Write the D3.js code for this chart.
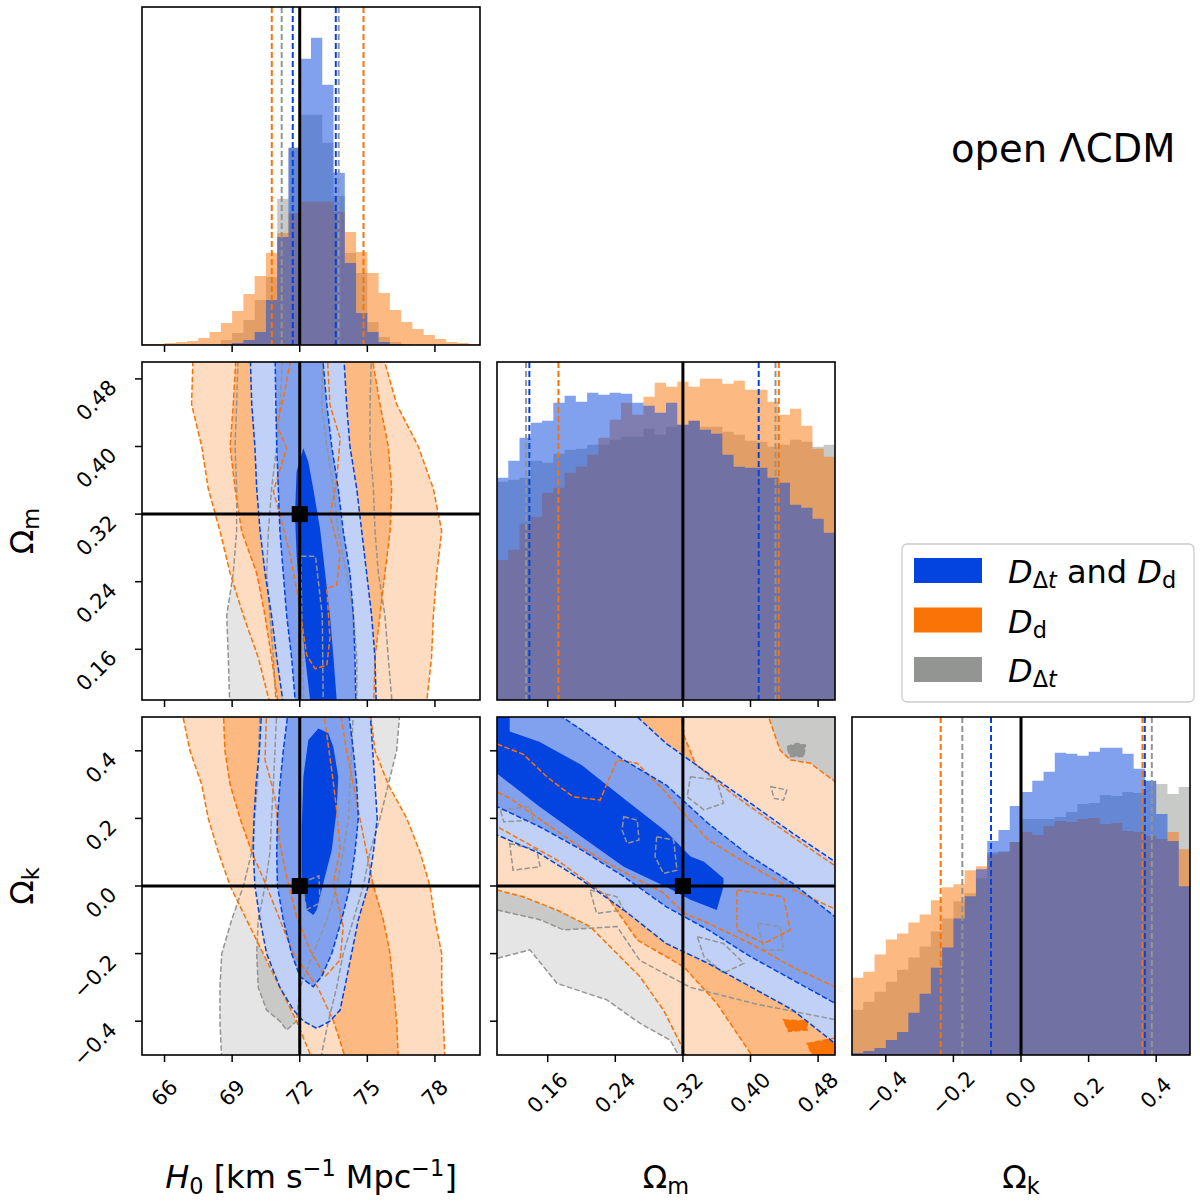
<!DOCTYPE html>
<html lang="en">
<head>
<meta charset="utf-8">
<title>open ΛCDM corner plot</title>
<script src="https://cdn.jsdelivr.net/npm/d3@7"></script>
<style>
  body { margin: 0; background: white; }
  svg { display: block; font-family: "DejaVu Sans", sans-serif; }
</style>
</head>
<body>
<script>
// ---------- data ----------
const H0_RANGE = [65, 80], OM_RANGE = [0.1, 0.5], OK_RANGE = [-0.5, 0.5]
const H0_TICKS = [66, 69, 72, 75, 78]
const OM_TICKS = [0.16, 0.24, 0.32, 0.40, 0.48]
const OK_TICKS = [-0.4, -0.2, 0.0, 0.2, 0.4]
const TRUTH_H0 = 72, TRUTH_OM = 0.32, TRUTH_OK = 0.0
const N_BINS = 30

// 1D histograms (arbitrary counts, 30 bins over each axis range)
const H0_HIST_BOTH = [0,0,0,0,0,0,0,0,2,5,13,45,108,197,286,307,260,172,82,32,13,3,1,0,0,0,0,0,0,0]
const H0_HIST_DD   = [1,1,2,3,4,7,13,22,34,51,69,92,112,132,143,143,143,133,113,93,72,52,35,23,16,10,6,3,2,1]
const H0_HIST_DDT  = [0,0,0,0,0,0,1,5,12,25,45,68,146,197,230,230,202,149,92,72,23,8,3,1,0,0,0,0,0,0]

const OM_HIST_BOTH = [222,239,262,277,279,297,304,298,307,305,307,306,297,294,287,297,275,279,270,266,245,233,232,232,222,217,195,192,181,167]
const OM_HIST_DD   = [140,150,176,183,207,212,227,233,245,262,280,297,285,303,317,313,318,313,321,321,316,319,310,310,298,285,291,274,251,243]
const OM_HIST_DDT  = [218,220,222,239,237,246,250,251,255,255,260,263,263,271,265,273,275,279,273,273,268,265,259,258,253,255,260,258,253,255]

const OK_HIST_BOTH = [2,4,7,15,23,42,61,87,107,136,158,185,213,224,248,262,273,282,301,300,298,302,306,306,300,285,273,240,213,168]
const OK_HIST_DD   = [77,83,100,115,121,132,140,154,167,170,184,188,200,202,212,222,219,228,233,232,235,236,230,231,223,222,218,215,222,205]
const OK_HIST_DDT  = [45,53,63,73,85,97,108,123,136,153,161,176,202,203,212,235,235,235,237,242,250,251,259,258,262,261,273,270,260,267]

// 16th / 84th percentiles
const H0_Q_BOTH = [71.69, 73.60], H0_Q_DD = [70.76, 74.83], H0_Q_DDT = [71.20, 73.73]
const OM_Q_BOTH = [0.1383, 0.4097], OM_Q_DD = [0.1727, 0.4335], OM_Q_DDT = [0.1344, 0.4296]
const OK_Q_BOTH = [-0.0888, 0.3663], OK_Q_DD = [-0.2376, 0.3595], OK_Q_DDT = [-0.1736, 0.3870]

// 2D contours, [x, y] in data units; level 1 = outer, 3 = inner
// Omega_m vs H0
const H0OM_DDT_1 = [[[69.28,0.52],[69.20,0.45],[69.13,0.40],[69.20,0.35],[69.20,0.30],[69.05,0.25],[68.76,0.20],[68.83,0.15],[68.91,0.08],
  [76.15,0.08],[75.93,0.15],[75.78,0.20],[75.49,0.25],[75.34,0.30],[75.27,0.35],[75.12,0.40],[75.12,0.45],[75.19,0.52]]]
const H0OM_DDT_2 = [[[71.27,0.52],[71.12,0.45],[70.98,0.40],[70.75,0.35],[70.61,0.30],[70.53,0.25],[70.68,0.20],[70.83,0.15],[70.98,0.08],
  [74.53,0.08],[74.53,0.15],[74.38,0.20],[74.08,0.25],[73.71,0.30],[73.49,0.35],[73.20,0.40],[72.97,0.45],[73.05,0.52]]]
const H0OM_DDT_3 = [[[72.05,0.27],[72.70,0.27],[73.00,0.20],[73.05,0.08],[72.20,0.08],[72.10,0.18]]]
const H0OM_DD_1 = [[[67.28,0.52],[67.20,0.45],[67.65,0.40],[67.94,0.35],[68.46,0.30],[68.91,0.25],[69.50,0.20],[70.16,0.15],[70.83,0.08],
  [77.56,0.08],[77.85,0.15],[77.93,0.20],[78.08,0.25],[78.30,0.30],[77.93,0.35],[77.26,0.40],[76.30,0.45],[75.56,0.52]]]
const H0OM_DD_2 = [[[69.20,0.52],[69.05,0.45],[68.91,0.40],[69.13,0.35],[69.42,0.30],[70.09,0.25],[70.46,0.20],[70.75,0.15],[71.12,0.08],
  [75.27,0.08],[75.34,0.15],[75.56,0.20],[75.78,0.25],[76.01,0.30],[76.08,0.35],[75.93,0.40],[75.56,0.45],[75.12,0.52]]]
const H0OM_DD_3 = [[[71.72,0.52],[71.27,0.457],[70.98,0.425],[71.42,0.398],[70.83,0.347],[71.12,0.319],[71.57,0.272],[71.86,0.232],[72.31,0.153],[72.68,0.137],
  [73.20,0.141],[73.34,0.173],[73.20,0.232],[73.64,0.236],[73.79,0.272],[73.34,0.319],[73.64,0.358],[73.79,0.410],[73.34,0.449],[73.20,0.52]]]
const H0OM_BOTH_1 = [[[69.79,0.52],[69.87,0.45],[70.01,0.40],[70.09,0.35],[70.24,0.30],[70.46,0.25],[70.75,0.20],[70.98,0.15],[71.35,0.08],
  [75.41,0.08],[75.34,0.15],[75.19,0.20],[74.97,0.25],[74.75,0.30],[74.53,0.35],[74.23,0.40],[74.08,0.45],[73.93,0.52]]]
const H0OM_BOTH_2 = [[[70.90,0.52],[70.94,0.45],[70.98,0.40],[71.05,0.35],[71.12,0.30],[71.27,0.25],[71.42,0.20],[71.64,0.15],[71.86,0.08],
  [74.50,0.08],[74.45,0.15],[74.38,0.20],[74.23,0.25],[73.93,0.30],[73.71,0.35],[73.42,0.40],[73.20,0.45],[72.97,0.52]]]
const H0OM_BOTH_3 = [[[72.16,0.398],[71.86,0.370],[71.79,0.319],[71.86,0.272],[72.01,0.212],[72.23,0.153],[72.46,0.100],[72.50,0.08],
  [73.70,0.08],[73.64,0.100],[73.49,0.153],[73.34,0.200],[73.12,0.252],[72.90,0.303],[72.60,0.350],[72.38,0.382]]]

// Omega_k vs H0
const H0OK_DDT_1 = [[[70.24,0.52],[70.18,0.4],[70.12,0.3],[70.00,0.2],[69.87,0.1],[69.50,0.0],[68.98,-0.1],[68.54,-0.2],[68.46,-0.3],[68.46,-0.4],[68.54,-0.52],
  [72.90,-0.52],[73.27,-0.4],[73.64,-0.3],[73.93,-0.2],[74.38,-0.1],[74.82,0.0],[75.12,0.1],[75.56,0.2],[75.93,0.3],[76.30,0.4],[76.45,0.52]]]
const H0OK_DDT_2 = [[[70.98,0.52],[70.90,0.4],[70.83,0.3],[70.75,0.2],[70.68,0.1],[70.46,0.0],[70.16,-0.1],[70.09,-0.2],[70.16,-0.3],[70.53,-0.367],[71.12,-0.4],[71.42,-0.426],
  [71.86,-0.4],[72.01,-0.3],[72.60,-0.2],[73.20,-0.1],[73.64,0.0],[73.93,0.1],[74.16,0.2],[74.23,0.3],[74.30,0.4],[74.38,0.52]]]
const H0OK_DDT_3 = [[[72.10,0.01],[72.85,0.03],[72.90,-0.05],[72.30,-0.07]]]
const H0OK_DD_1 = [[[66.76,0.52],[67.13,0.4],[67.65,0.3],[67.94,0.2],[68.39,0.1],[68.91,0.0],[69.64,-0.1],[70.38,-0.2],[71.12,-0.3],[71.86,-0.4],[72.60,-0.52],
  [78.45,-0.52],[78.37,-0.4],[78.30,-0.3],[78.30,-0.2],[78.00,-0.1],[77.78,0.0],[77.34,0.1],[76.75,0.2],[75.93,0.3],[75.34,0.4],[75.12,0.52]]]
const H0OK_DD_2 = [[[68.61,0.52],[68.68,0.4],[68.91,0.3],[69.35,0.2],[69.87,0.1],[70.53,0.0],[71.12,-0.1],[71.72,-0.2],[72.80,-0.3],[73.50,-0.4],[74.08,-0.52],
  [76.38,-0.52],[76.30,-0.4],[76.15,-0.3],[76.01,-0.2],[75.71,-0.1],[75.27,0.0],[74.97,0.1],[74.67,0.2],[74.38,0.3],[74.08,0.4],[73.79,0.52]]]
const H0OK_DD_3 = [[[70.53,0.52],[70.46,0.373],[70.90,0.264],[71.12,0.126],[71.42,0.028],[71.86,-0.091],[72.46,-0.189],[73.12,-0.268],
  [73.79,-0.219],[73.93,-0.120],[73.49,0.008],[73.79,0.107],[73.64,0.225],[73.42,0.343],[73.05,0.52]]]
const H0OK_BOTH_1 = [[[70.31,0.52],[70.21,0.4],[70.06,0.3],[69.97,0.2],[69.94,0.1],[70.01,0.0],[70.24,-0.1],[70.53,-0.2],[71.12,-0.3],[71.72,-0.367],[72.16,-0.4],[72.75,-0.421],
  [73.34,-0.4],[73.79,-0.367],[74.00,-0.3],[74.30,-0.2],[74.60,-0.1],[75.04,0.0],[75.27,0.1],[75.44,0.2],[75.34,0.3],[75.24,0.4],[75.12,0.52]]]
const H0OK_BOTH_2 = [[[71.49,0.52],[71.27,0.4],[71.12,0.3],[71.01,0.2],[70.98,0.1],[71.01,0.0],[71.27,-0.1],[71.64,-0.2],[72.01,-0.268],[72.60,-0.298],
  [72.97,-0.268],[73.42,-0.2],[73.86,-0.1],[74.23,0.0],[74.45,0.1],[74.60,0.2],[74.53,0.3],[74.38,0.4],[74.16,0.52]]]
const H0OK_BOTH_3 = [[[72.83,0.466],[72.38,0.432],[72.16,0.323],[72.09,0.176],[72.09,0.077],[72.09,-0.002],[72.23,-0.041],[72.31,-0.071],[72.60,-0.086],
  [72.75,-0.071],[72.90,-0.032],[73.12,0.028],[73.42,0.106],[73.64,0.225],[73.71,0.323],[73.49,0.412],[73.27,0.452]]]

// Omega_k vs Omega_m
const OMOK_DDT_1 = [[[0.09,0.51],[0.51,0.51],[0.51,-0.51],[0.317,-0.51],[0.305,-0.456],[0.269,-0.406],[0.230,-0.337],[0.171,-0.288],[0.139,-0.189],[0.100,-0.214],[0.09,-0.214]]]
const OMOK_DDT_2 = [[[0.09,0.51],[0.51,0.51],[0.51,-0.40],[0.408,-0.35],[0.329,-0.30],[0.269,-0.22],[0.242,-0.120],[0.210,-0.125],[0.179,-0.130],[0.151,-0.100],[0.100,-0.071],[0.09,-0.07]]]
const OMOK_DDT_3 = [
  [[0.443,0.412],[0.455,0.422],[0.465,0.417],[0.463,0.383],[0.447,0.383]],
  [[0.250,0.205],[0.266,0.195],[0.268,0.136],[0.254,0.126],[0.248,0.166]],
  [[0.289,0.146],[0.309,0.136],[0.313,0.047],[0.297,0.037],[0.287,0.087]],
  [[0.329,0.323],[0.360,0.314],[0.368,0.245],[0.345,0.225],[0.325,0.264]],
  [[0.424,0.294],[0.443,0.284],[0.439,0.254],[0.428,0.259]],
  [[0.104,0.225],[0.139,0.235],[0.143,0.195],[0.108,0.190]],
  [[0.115,0.126],[0.147,0.107],[0.151,0.057],[0.119,0.047]],
  [[0.337,-0.150],[0.368,-0.170],[0.392,-0.229],[0.368,-0.258],[0.345,-0.209]],
  [[0.408,-0.110],[0.435,-0.120],[0.439,-0.189],[0.416,-0.189]],
  [[0.210,-0.012],[0.242,-0.032],[0.250,-0.071],[0.218,-0.081]]
]
const OMOK_DD_1 = [[[0.09,0.51],[0.420,0.51],[0.435,0.402],[0.447,0.373],[0.471,0.363],[0.500,0.309],[0.51,0.30],[0.51,-0.51],[0.325,-0.51],[0.317,-0.466],[0.297,-0.367],
  [0.269,-0.268],[0.230,-0.170],[0.210,-0.120],[0.171,-0.071],[0.131,-0.032],[0.100,-0.012],[0.09,-0.01]]]
const OMOK_DD_2 = [[[0.09,0.51],[0.317,0.51],[0.322,0.44],[0.335,0.36],[0.380,0.27],[0.450,0.145],[0.500,0.06],[0.51,0.05],[0.51,-0.51],[0.404,-0.51],
  [0.360,-0.347],[0.321,-0.239],[0.266,-0.160],[0.230,-0.03],[0.171,0.077],[0.100,0.176],[0.09,0.18]]]
const OMOK_DD_3 = [
  [[0.100,0.42],[0.131,0.39],[0.159,0.323],[0.190,0.264],[0.222,0.254],[0.242,0.373],[0.266,0.363],[0.297,0.284],[0.321,0.215],[0.350,0.136],[0.400,0.06],[0.450,-0.01],[0.51,-0.08],
   [0.51,-0.31],[0.450,-0.24],[0.400,-0.17],[0.350,-0.11],[0.321,-0.08],[0.297,-0.02],[0.266,0.02],[0.222,0.08],[0.190,0.13],[0.155,0.19],[0.115,0.26],[0.09,0.29],[0.09,0.42]],
  [[0.384,-0.012],[0.439,-0.032],[0.447,-0.130],[0.416,-0.170],[0.384,-0.130]],
  [[0.439,-0.396],[0.467,-0.400],[0.467,-0.426],[0.445,-0.430]],
  [[0.467,-0.466],[0.500,-0.450],[0.51,-0.51],[0.475,-0.51]]
]
const OMOK_BOTH_1 = [[[0.09,0.51],[0.262,0.51],[0.300,0.422],[0.350,0.333],[0.400,0.245],[0.450,0.156],[0.500,0.072],[0.51,0.065],[0.51,-0.48],[0.500,-0.466],
  [0.450,-0.367],[0.400,-0.298],[0.350,-0.229],[0.300,-0.170],[0.250,-0.071],[0.200,0.018],[0.150,0.097],[0.100,0.151],[0.09,0.16]]]
const OMOK_BOTH_2 = [[[0.09,0.51],[0.171,0.51],[0.200,0.462],[0.250,0.373],[0.300,0.299],[0.350,0.185],[0.400,0.087],[0.450,0.008],[0.500,-0.091],[0.51,-0.10],
  [0.51,-0.36],[0.500,-0.347],[0.450,-0.278],[0.400,-0.209],[0.350,-0.130],[0.300,-0.061],[0.250,0.028],[0.200,0.107],[0.150,0.176],[0.100,0.235],[0.09,0.24]]]
const OMOK_BOTH_3 = [[[0.09,0.51],[0.115,0.51],[0.115,0.457],[0.150,0.427],[0.200,0.358],[0.250,0.259],[0.300,0.161],[0.329,0.087],[0.345,0.072],[0.368,0.023],
  [0.368,-0.002],[0.360,-0.071],[0.329,-0.041],[0.300,-0.002],[0.250,0.057],[0.200,0.146],[0.150,0.235],[0.100,0.333],[0.09,0.333]]]

// ---------- layout / style ----------
const S = 338
const COL_X = [142, 497, 852]
const ROW_Y = [7, 362, 717]
const TICK_FONT = 21
const COLORS = {ddt: "#929591", dd: "#f97306", both: "#0343df"}
const FILLS = {
  ddt: ["#e4e5e4", "#c9cac8", "#929591"],
  dd: ["#fedcc1", "#fcb982", "#f97306"],
  both: ["#c0d0f7", "#81a1ef", "#0343df"]
}
const ORDER = ["ddt", "dd", "both"]

let params = [
  {range: H0_RANGE, ticks: H0_TICKS, fmt: d3.format("d"), truth: TRUTH_H0,
   hist: {both: H0_HIST_BOTH, dd: H0_HIST_DD, ddt: H0_HIST_DDT}, q: {both: H0_Q_BOTH, dd: H0_Q_DD, ddt: H0_Q_DDT}},
  {range: OM_RANGE, ticks: OM_TICKS, fmt: d3.format(".2f"), truth: TRUTH_OM,
   hist: {both: OM_HIST_BOTH, dd: OM_HIST_DD, ddt: OM_HIST_DDT}, q: {both: OM_Q_BOTH, dd: OM_Q_DD, ddt: OM_Q_DDT}},
  {range: OK_RANGE, ticks: OK_TICKS, fmt: d3.format(".1f"), truth: TRUTH_OK,
   hist: {both: OK_HIST_BOTH, dd: OK_HIST_DD, ddt: OK_HIST_DDT}, q: {both: OK_Q_BOTH, dd: OK_Q_DD, ddt: OK_Q_DDT}}
]

let contours = {
  "1-0": {ddt: [H0OM_DDT_1, H0OM_DDT_2, H0OM_DDT_3], dd: [H0OM_DD_1, H0OM_DD_2, H0OM_DD_3], both: [H0OM_BOTH_1, H0OM_BOTH_2, H0OM_BOTH_3]},
  "2-0": {ddt: [H0OK_DDT_1, H0OK_DDT_2, H0OK_DDT_3], dd: [H0OK_DD_1, H0OK_DD_2, H0OK_DD_3], both: [H0OK_BOTH_1, H0OK_BOTH_2, H0OK_BOTH_3]},
  "2-1": {ddt: [OMOK_DDT_1, OMOK_DDT_2, OMOK_DDT_3], dd: [OMOK_DD_1, OMOK_DD_2, OMOK_DD_3], both: [OMOK_BOTH_1, OMOK_BOTH_2, OMOK_BOTH_3]}
}

let svg = d3.select("body").append("svg")
    .attr("width", 1200)
    .attr("height", 1203)

let xs = params.map((p, c) => d3.scaleLinear().domain(p.range).range([COL_X[c], COL_X[c] + S]))
let ys = params.map((p, r) => d3.scaleLinear().domain(p.range).range([ROW_Y[r] + S, ROW_Y[r]]))

let defs = svg.append("defs")
for (let r = 0; r < 3; r++) {
  for (let c = 0; c <= r; c++) {
    defs.append("clipPath").attr("id", `clip-${r}-${c}`)
      .append("rect").attr("x", COL_X[c]).attr("y", ROW_Y[r]).attr("width", S).attr("height", S)
  }
}

let drawHist = (i) => {
  let p = params[i]
  let x = xs[i]
  let binW = (p.range[1] - p.range[0]) / N_BINS
  let y = d3.scaleLinear().domain([0, 1.1 * d3.max(p.hist.both)]).range([ROW_Y[i] + S, ROW_Y[i]])
  let g = svg.append("g").attr("clip-path", `url(#clip-${i}-${i})`)
  let area = d3.area().x(d => x(d[0])).y0(y(0)).y1(d => y(d[1]))

  ORDER.forEach(key => {
    let pts = []
    p.hist[key].forEach((h, j) => {
      let e0 = p.range[0] + j * binW
      pts.push([e0, h], [e0 + binW, h])
    })
    g.append("path").attr("d", area(pts))
      .attr("fill", COLORS[key]).attr("fill-opacity", 0.5)
  })

  ORDER.forEach(key => {
    p.q[key].forEach(v => {
      g.append("line")
        .attr("x1", x(v)).attr("x2", x(v))
        .attr("y1", ROW_Y[i]).attr("y2", ROW_Y[i] + S)
        .attr("stroke", COLORS[key]).attr("stroke-width", 2)
        .attr("stroke-dasharray", "6,3")
    })
  })

  g.append("line")
    .attr("x1", x(p.truth)).attr("x2", x(p.truth))
    .attr("y1", ROW_Y[i]).attr("y2", ROW_Y[i] + S)
    .attr("stroke", "black").attr("stroke-width", 3)
}

let drawContours = (r, c) => {
  let x = xs[c], y = ys[r]
  let set = contours[`${r}-${c}`]
  let line = d3.line().x(d => x(d[0])).y(d => y(d[1])).curve(d3.curveLinearClosed)
  let g = svg.append("g").attr("clip-path", `url(#clip-${r}-${c})`)

  ORDER.forEach(key => {
    set[key].forEach((level, li) => {
      level.forEach(poly => {
        g.append("path").attr("d", line(poly)).attr("fill", FILLS[key][li]).attr("stroke", "none")
      })
    })
  })
  ORDER.forEach(key => {
    set[key].forEach((level, li) => {
      if (key === "both" && li === 2) return
      level.forEach(poly => {
        g.append("path").attr("d", line(poly))
          .attr("fill", "none").attr("stroke", COLORS[key])
          .attr("stroke-width", 1.5).attr("stroke-dasharray", "5.5,2.4")
      })
    })
  })

  let tx = x(params[c].truth), ty = y(params[r].truth)
  g.append("line").attr("x1", tx).attr("x2", tx).attr("y1", ROW_Y[r]).attr("y2", ROW_Y[r] + S)
    .attr("stroke", "black").attr("stroke-width", 3)
  g.append("line").attr("x1", COL_X[c]).attr("x2", COL_X[c] + S).attr("y1", ty).attr("y2", ty)
    .attr("stroke", "black").attr("stroke-width", 3)
  g.append("rect").attr("x", tx - 8).attr("y", ty - 8).attr("width", 16).attr("height", 16).attr("fill", "black")
}

for (let r = 0; r < 3; r++) {
  for (let c = 0; c <= r; c++) {
    if (r === c) drawHist(r)
    else drawContours(r, c)

    // frame
    svg.append("rect").attr("x", COL_X[c]).attr("y", ROW_Y[r]).attr("width", S).attr("height", S)
      .attr("fill", "none").attr("stroke", "black").attr("stroke-width", 1.6)

    // bottom ticks
    let bottom = ROW_Y[r] + S
    params[c].ticks.forEach(t => {
      let tx = xs[c](t)
      svg.append("line").attr("x1", tx).attr("x2", tx).attr("y1", bottom).attr("y2", bottom + 7)
        .attr("stroke", "black").attr("stroke-width", 1.5)
      if (r === 2) {
        svg.append("text")
          .attr("transform", `translate(${tx},${bottom + 38}) rotate(-45)`)
          .attr("text-anchor", "middle").attr("dominant-baseline", "central")
          .attr("font-size", TICK_FONT).text(params[c].fmt(t))
      }
    })

    // left ticks on 2D panels
    if (r !== c) {
      params[r].ticks.forEach(t => {
        let ty = ys[r](t)
        svg.append("line").attr("x1", COL_X[c] - 7).attr("x2", COL_X[c]).attr("y1", ty).attr("y2", ty)
          .attr("stroke", "black").attr("stroke-width", 1.5)
        if (c === 0) {
          svg.append("text")
            .attr("transform", `translate(${COL_X[0] - 24},${ty + 10}) rotate(-45)`)
            .attr("text-anchor", "end")
            .attr("font-size", TICK_FONT).text(params[r].fmt(t))
        }
      })
    }
  }
}

// ---------- text ----------
let richText = (sel, parts, base) => {
  parts.forEach(pt => {
    let ts = sel.append("tspan").text(pt.t)
    if (pt.it) ts.attr("font-style", "italic")
    if (pt.sub || pt.sup) ts.attr("font-size", base * 0.7)
    if (pt.dy) ts.attr("dy", pt.dy)
  })
}

let h0Label = svg.append("text").attr("x", COL_X[0] + S / 2).attr("y", 1188)
  .attr("text-anchor", "middle").attr("font-size", 32)
richText(h0Label, [
  {t: "H", it: true}, {t: "0", sub: true, dy: 6}, {t: " [km s", dy: -6},
  {t: "−1", sup: true, dy: -12}, {t: " Mpc", dy: 12}, {t: "−1", sup: true, dy: -12}, {t: "]", dy: 12}
], 32)

let omX = svg.append("text").attr("x", COL_X[1] + S / 2).attr("y", 1188)
  .attr("text-anchor", "middle").attr("font-size", 32)
richText(omX, [{t: "Ω"}, {t: "m", sub: true, dy: 6}], 32)

let okX = svg.append("text").attr("x", COL_X[2] + S / 2).attr("y", 1188)
  .attr("text-anchor", "middle").attr("font-size", 32)
richText(okX, [{t: "Ω"}, {t: "k", sub: true, dy: 6}], 32)

let omY = svg.append("text").attr("transform", `translate(33,${ROW_Y[1] + S / 2}) rotate(-90)`)
  .attr("text-anchor", "middle").attr("font-size", 32)
richText(omY, [{t: "Ω"}, {t: "m", sub: true, dy: 6}], 32)

let okY = svg.append("text").attr("transform", `translate(33,${ROW_Y[2] + S / 2}) rotate(-90)`)
  .attr("text-anchor", "middle").attr("font-size", 32)
richText(okY, [{t: "Ω"}, {t: "k", sub: true, dy: 6}], 32)

svg.append("text").attr("x", 951).attr("y", 162).attr("font-size", 38.5).text("open ΛCDM")

// ---------- legend ----------
let legend = svg.append("g")
legend.append("rect").attr("x", 902).attr("y", 544).attr("width", 292).attr("height", 158)
  .attr("rx", 5).attr("fill", "white").attr("stroke", "#cccccc").attr("stroke-width", 1.3)

let legendItems = [
  {key: "both", parts: [{t: "D", it: true}, {t: "Δ", sub: true, dy: 5}, {t: "t", sub: true, it: true},
    {t: " and ", dy: -5}, {t: "D", it: true}, {t: "d", sub: true, dy: 5}]},
  {key: "dd", parts: [{t: "D", it: true}, {t: "d", sub: true, dy: 5}]},
  {key: "ddt", parts: [{t: "D", it: true}, {t: "Δ", sub: true, dy: 5}, {t: "t", sub: true, it: true}]}
]
legendItems.forEach((item, i) => {
  let yy = 558 + i * 49.5
  legend.append("rect").attr("x", 914).attr("y", yy).attr("width", 68).attr("height", 25)
    .attr("fill", COLORS[item.key])
  let t = legend.append("text").attr("x", 1008).attr("y", yy + 25).attr("font-size", 32)
  richText(t, item.parts, 32)
})
</script>
</body>
</html>
